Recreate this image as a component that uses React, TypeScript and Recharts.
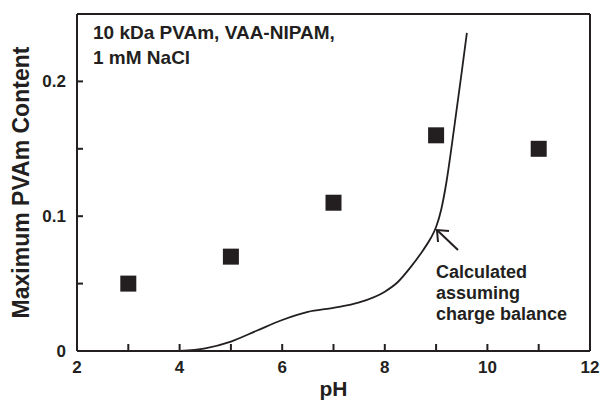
import {
  ComposedChart,
  Line,
  Scatter,
  XAxis,
  YAxis,
  CartesianGrid,
  Label,
} from "recharts";

const INK = "#231f20";
const FONT = "'Liberation Sans', Arial, Helvetica, sans-serif";

// measured maximum PVAm content (squares)
const phMeasured = [3, 5, 7, 9, 11];
const contentMeasured = [0.05, 0.07, 0.11, 0.16, 0.15];

// calculated curve, assuming charge balance
const phCalc = [4, 4.5, 5, 5.5, 6, 6.5, 7, 7.5, 8, 8.25, 8.5, 8.75, 8.9, 9, 9.1, 9.2, 9.3, 9.4, 9.5, 9.6];
const contentCalc = [
  0, 0.002, 0.007, 0.015, 0.023, 0.029, 0.032, 0.036, 0.044, 0.051, 0.062, 0.075,
  0.084, 0.092, 0.105, 0.125, 0.151, 0.179, 0.207, 0.236,
];

const xDomain = [2, 12];
const yDomain = [0, 0.25];
const xTicks = [2, 3, 4, 5, 6, 7, 8, 9, 10, 11, 12];
const yTicks = [0, 0.05, 0.1, 0.15, 0.2, 0.25];
const yTickLabels: Record<number, string> = { 0: "0", 0.1: "0.1", 0.2: "0.2" };

const measured = phMeasured.map((x, i) => ({ x, y: contentMeasured[i] }));
const calculated = phCalc.map((x, i) => ({ x, y: contentCalc[i] }));

// inward tick marks sit on the frame, drawn through the chart scales
const xTickMarks = xTicks.filter((v) => v > xDomain[0] && v < xDomain[1]).map((x) => ({ x, y: yDomain[0] }));
const yTickMarks = yTicks.filter((v) => v > yDomain[0] && v < yDomain[1]).map((y) => ({ x: xDomain[0], y }));

function XTick(props: any) {
  const { x, y, payload } = props;
  const v = payload.value;
  if (v % 2 !== 0) return <g />;
  return (
    <text x={x} y={y + 22} textAnchor="middle" fontSize={17} fontWeight="bold" fill={INK} fontFamily={FONT}>
      {v}
    </text>
  );
}

function YTick(props: any) {
  const { x, y, payload } = props;
  const label = yTickLabels[payload.value];
  if (label === undefined) return <g />;
  return (
    <text x={x - 11} y={y + 6} textAnchor="end" fontSize={17} fontWeight="bold" fill={INK} fontFamily={FONT}>
      {label}
    </text>
  );
}

function Square(props: any) {
  const { cx, cy } = props;
  if (cx == null || cy == null) return null;
  return <rect x={cx - 8} y={cy - 8} width={16} height={16} fill={INK} />;
}

function UpTick(props: any) {
  const { cx, cy } = props;
  if (cx == null || cy == null) return null;
  return <path d={`M${cx},${cy}v-7`} stroke={INK} strokeWidth={2} fill="none" />;
}

function RightTick(props: any) {
  const { cx, cy } = props;
  if (cx == null || cy == null) return null;
  return <path d={`M${cx},${cy}h6`} stroke={INK} strokeWidth={2} fill="none" />;
}

export default function App() {
  return (
    <div style={{ position: "absolute", left: 0, top: 0, width: 602, height: 401, background: "#fff" }}>
      <ComposedChart width={602} height={401} margin={{ top: 14, right: 12, bottom: 0, left: 0 }}>
        <CartesianGrid
          horizontalValues={yDomain}
          verticalValues={xDomain}
          stroke={INK}
          strokeWidth={2}
          fill="none"
        />
        <XAxis
          type="number"
          dataKey="x"
          domain={xDomain}
          ticks={xTicks}
          allowDataOverflow
          height={50}
          axisLine={false}
          tickLine={false}
          tickSize={0}
          tickMargin={0}
          tick={<XTick />}
          interval={0}
        >
          <Label
            value="pH"
            position="insideBottom"
            offset={5}
            style={{ fontSize: 21, fontWeight: "bold", fill: INK, fontFamily: FONT }}
          />
        </XAxis>
        <YAxis
          type="number"
          dataKey="y"
          domain={yDomain}
          ticks={yTicks}
          allowDataOverflow
          width={77}
          axisLine={false}
          tickLine={false}
          tickSize={0}
          tickMargin={0}
          tick={<YTick />}
          interval={0}
        >
          <Label
            value="Maximum PVAm Content"
            angle={-90}
            position="insideLeft"
            offset={21}
            style={{ fontSize: 23, fontWeight: "bold", fill: INK, fontFamily: FONT, textAnchor: "middle" }}
          />
        </YAxis>
        <Scatter data={xTickMarks} dataKey="y" shape={<UpTick />} isAnimationActive={false} />
        <Scatter data={yTickMarks} dataKey="y" shape={<RightTick />} isAnimationActive={false} />
        <Line
          data={calculated}
          dataKey="y"
          type="monotone"
          stroke={INK}
          strokeWidth={1.8}
          dot={false}
          isAnimationActive={false}
        />
        <Scatter data={measured} dataKey="y" shape={<Square />} isAnimationActive={false} />
      </ComposedChart>
      <svg
        width={602}
        height={401}
        style={{ position: "absolute", left: 0, top: 0, pointerEvents: "none" }}
        fontFamily={FONT}
        fontWeight="bold"
        fill={INK}
      >
        <text x={93} y={39} fontSize={19}>10 kDa PVAm, VAA-NIPAM,</text>
        <text x={93} y={64} fontSize={19}>1 mM NaCl</text>
        <text x={436} y={278} fontSize={18}>Calculated</text>
        <text x={436} y={299} fontSize={18}>assuming</text>
        <text x={436} y={320} fontSize={18}>charge balance</text>
        <line x1={458} y1={250} x2={438} y2={231} stroke={INK} strokeWidth={2} />
        <polyline points="438,242 437,230 449,231" fill="none" stroke={INK} strokeWidth={2} />
      </svg>
    </div>
  );
}
